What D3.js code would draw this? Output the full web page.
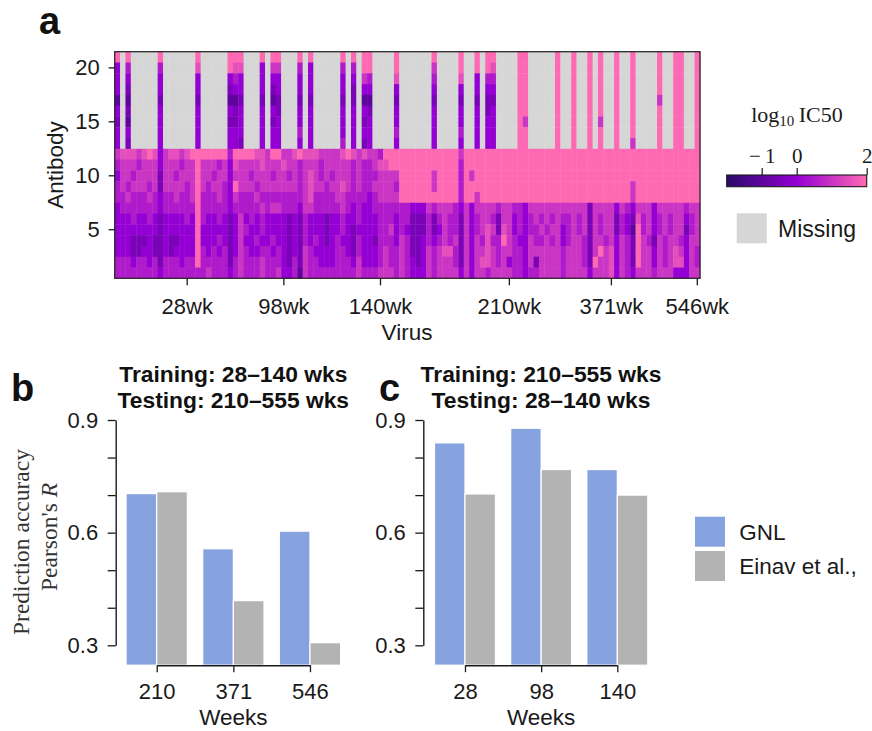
<!DOCTYPE html>
<html>
<head>
<meta charset="utf-8">
<script src="https://d3js.org/d3.v7.min.js"></script>
<style>
  body { margin: 0; background: #fff; }
  svg { display: block; font-family: "Liberation Sans", Arial, sans-serif; }
</style>
</head>
<body>
<svg id="fig" width="872" height="731"></svg>
<script>
// ---- panel a: log10 IC50 per antibody (rows, top = 21) x virus (109 columns)
// one character per virus: level code 0..8 (see ic50Levels), '.' = missing
const antibodyIds = d3.range(21, 0, -1);
const ic50Levels = [-2, -1.5, -1, -0.5, 0, 0.5, 1, 1.5, 2];
const ic50Rows = [
  "8.8.....8. .....8.... .888...8.8 8...8.8... ..8.8.88.. ..8......8 ....8..8.8 8....88... ..8..8..8. 8..8..8... .8..88..8",
  "4.5.....5. .....7.... .877...4.6 6...5.4... ..5.5.88.. ..8......6 ....8..8.8 7....88... ..8..8..8. 8..8..8... .8..88..8",
  "4.4.....4. .....4.... .454...4.4 4...4.4... ..4.4.65.. ..7......5 ....7..4.5 5....88... ..8..8..8. 8..8..8... .8..88..8",
  "4.3.....4. .....4.... .344...4.3 4...4.4... ..4.3.44.. ..4......4 ....4..4.4 4....88... ..8..8..8. 8..8..8... .8..88..8",
  "2.2.....3. .....3.... .223...3.2 3...3.3... ..3.3.22.. ..3......3 ....3..3.3 3....88... ..8..8..8. 8..8..8... .6..88..8",
  "4.3.....4. .....4.... .434...4.4 3...4.4... ..4.4.43.. ..4......4 ....4..4.3 4....88... ..8..8..8. 8..8..8... .8..88..8",
  "3.2.....4. .....4.... .334...4.3 4...4.4... ..4.4.34.. ..4......4 ....4..4.4 4....86... ..8..8..8. 6..8..8... .8..88..8",
  "4.4.....4. .....4.... .444...4.4 4...5.4... ..4.4.44.. ..5......4 ....5..4.4 4....88... ..8..8..8. 8..8..8... .8..88..8",
  "4.3.....4. .....4.... .443...4.4 4...4.4... ..5.4.34.. ..4......4 ....4..4.4 4....88... ..8..8..8. 8..8..6... .8..88..8",
  "6777678746 7767888888 8588887768 8667877766 6678767665 8888888888 8888688888 8888888888 8888888888 8888888888 888888888",
  "5666566646 6656686665 6476666766 6766566656 6666565567 7888888888 8888588888 8888888888 8888888888 8888888888 888888888",
  "4665666636 6566686656 6466656665 6656567656 5666565556 6668888886 8888586888 8888888888 8888888888 8888888888 888888888",
  "5656665636 6665686566 5486665666 6666567665 6676565566 6658888886 8888588888 8888888888 8888888888 8888886888 888888888",
  "5565556545 5655685556 5465556555 5555567555 5665555456 6668888888 8888588688 8888888888 8888888888 8888886888 888888888",
  "4555555545 5555585555 5455555656 6555466555 5565454455 5555544465 6665464666 6566554666 6666666636 6664654666 466666566",
  "4445445434 4445485445 4346454544 4434354443 4454454445 5545533353 5655364566 5366454565 6565565636 5663543756 456566456",
  "4444444434 4444484444 4346544544 4434354443 4454344445 5645433353 4655364567 6376454556 5664565636 5663542856 456566356",
  "4443334334 3344484445 4346445445 4434354543 4544354435 5546533454 5656364657 5586544655 6564566536 6564653865 365665466",
  "4443344334 3444485454 5346544554 5434365444 4554354445 6556533465 6775364667 6566554666 6665666536 8674653866 465676465",
  "5554554535 5545585555 5356555655 5435365544 4555464445 6556543465 6665364677 6564554636 6665666538 6674653866 465677465",
  "5555555545 5555555655 5456555655 6445265555 5555565556 6656544465 6666464665 6666554556 6665666646 6674654666 566644466"
];
const antibodyTicks = [20, 15, 10, 5];
const virusTickCols = [13, 31, 49, 73, 92, 108];
const virusTickLabels = ["28wk", "98wk", "140wk", "210wk", "371wk", "546wk"];
const colorbarTicks = [-1, 0, 2];

// ---- panels b, c: prediction accuracy (Pearson's R)
const methods = ["GNL", "Einav et al.,"];
const methodColors = ["#86a3df", "#b3b3b3"];
const weeksB = ["210", "371", "546"];
const gnlB = [0.704, 0.557, 0.604];
const einavB = [0.709, 0.419, 0.307];
const weeksC = ["28", "98", "140"];
const gnlC = [0.839, 0.878, 0.768];
const einavC = [0.703, 0.768, 0.700];
const accTicks = [0.3, 0.4, 0.5, 0.6, 0.7, 0.8, 0.9];
const accLabelled = [0.3, 0.6, 0.9];

const svg = d3.select("#fig");
const ink = "#1a1a1a";
const tickFont = "22px";
const labelFont = "22.5px";
const missingColor = "#d6d6d6";

const color = d3.scaleLinear()
  .domain([-2, 0, 2])
  .range(["#2a0a68", "#9400d3", "#ff69b4"]);

// ================= heatmap =================
const cells = [];
ic50Rows.forEach((row, i) => {
  row.replace(/ /g, "").split("").forEach((ch, j) => {
    cells.push({ ab: antibodyIds[i], virus: j, v: ch === "." ? null : ic50Levels[+ch] });
  });
});
const nVirus = ic50Rows[0].replace(/ /g, "").length;

const hx = d3.scaleBand().domain(d3.range(nVirus)).range([114.7, 700]);
const hy = d3.scaleBand().domain(antibodyIds).range([51.7, 278.3]);

const heat = svg.append("g");
heat.selectAll("rect.cell")
  .data(cells)
  .join("rect")
  .attr("class", "cell")
  .attr("x", d => hx(d.virus))
  .attr("y", d => hy(d.ab))
  .attr("width", hx.bandwidth() + 0.4)
  .attr("height", hy.bandwidth() + 0.4)
  .attr("fill", d => d.v === null ? missingColor : color(d.v));

heat.append("rect")
  .attr("x", 114.7).attr("y", 51.7)
  .attr("width", 700 - 114.7).attr("height", 278.3 - 51.7)
  .attr("fill", "none").attr("stroke", "#2a2a2a").attr("stroke-width", 1.3);

const hyAxis = heat.append("g")
  .attr("transform", "translate(114.7,0)")
  .call(d3.axisLeft(hy).tickValues(antibodyTicks).tickSize(6).tickPadding(9).tickSizeOuter(0));
const hxAxis = heat.append("g")
  .attr("transform", "translate(0,278.3)")
  .call(d3.axisBottom(hx).tickValues(virusTickCols)
    .tickFormat((d, i) => virusTickLabels[i]).tickSize(7).tickPadding(13).tickSizeOuter(0));
[hyAxis, hxAxis].forEach(a => {
  a.select(".domain").remove();
  a.selectAll("line").attr("stroke", ink).attr("stroke-width", 1.3);
  a.selectAll("text").attr("fill", ink).style("font-size", tickFont)
    .style("font-family", "Liberation Sans, Arial, sans-serif");
});

heat.append("text")
  .attr("x", 407).attr("y", 340)
  .attr("text-anchor", "middle").attr("fill", ink).style("font-size", labelFont)
  .text("Virus");
heat.append("text")
  .attr("transform", "translate(63,165) rotate(-90)")
  .attr("text-anchor", "middle").attr("fill", ink).style("font-size", labelFont)
  .text("Antibody");

// colorbar
const cb = d3.scaleLinear().domain([-2, 2]).range([726.7, 866.7]);
const grad = svg.append("defs").append("linearGradient").attr("id", "cbgrad");
grad.selectAll("stop")
  .data(d3.range(0, 1.0001, 0.05))
  .join("stop")
  .attr("offset", d => d)
  .attr("stop-color", d => color(-2 + 4 * d));
svg.append("rect")
  .attr("x", cb(-2)).attr("y", 175)
  .attr("width", cb(2) - cb(-2)).attr("height", 11.7)
  .attr("fill", "url(#cbgrad)").attr("stroke", ink).attr("stroke-width", 1.1);
const cbAxis = svg.append("g")
  .attr("transform", "translate(0,175)")
  .call(d3.axisTop(cb).tickValues(colorbarTicks).tickSize(7).tickPadding(5).tickSizeOuter(0)
    .tickFormat(d => d < 0 ? "\u2212\u2009" + Math.abs(d) : d));
cbAxis.select(".domain").remove();
cbAxis.selectAll("line").attr("stroke", ink).attr("stroke-width", 1.2);
cbAxis.selectAll("text").attr("fill", ink)
  .style("font-family", "Liberation Serif, Times New Roman, serif").style("font-size", "21px");

const cbTitle = svg.append("text")
  .attr("x", 797).attr("y", 122).attr("text-anchor", "middle").attr("fill", ink)
  .style("font-family", "Liberation Serif, Times New Roman, serif").style("font-size", "22px");
cbTitle.append("tspan").text("log");
cbTitle.append("tspan").attr("dy", 4).style("font-size", "15px").text("10");
cbTitle.append("tspan").attr("dy", -4).text("\u2009IC50");

svg.append("rect")
  .attr("x", 736.7).attr("y", 213.3).attr("width", 30).attr("height", 30)
  .attr("fill", missingColor);
svg.append("text")
  .attr("x", 778).attr("y", 236.5).attr("fill", ink).style("font-size", "23px")
  .text("Missing");

// ================= bar panels =================
const yAcc = d3.scaleLinear().domain([0.3, 0.9]).range([645.3, 420]);
const yFloor = 0.247;

function barPanel(cfg) {
  const g = svg.append("g");
  const x = d3.scaleBand().domain(cfg.weeks).range(cfg.xRange)
    .paddingInner(0.2).paddingOuter(0.1);
  const xm = d3.scaleBand().domain(methods).range([0, x.bandwidth()]);
  const base = yAcc(yFloor);
  const groups = cfg.weeks.map((w, i) => ({ w, vals: [cfg.gnl[i], cfg.einav[i]] }));

  g.selectAll("g.grp")
    .data(groups)
    .join("g")
    .attr("class", "grp")
    .attr("transform", d => `translate(${x(d.w)},0)`)
    .selectAll("rect")
    .data(d => d.vals.map((v, k) => ({ m: methods[k], v, k })))
    .join("rect")
    .attr("x", d => xm(d.m))
    .attr("y", d => yAcc(d.v))
    .attr("width", xm.bandwidth())
    .attr("height", d => base - yAcc(d.v))
    .attr("fill", d => methodColors[d.k])
    .attr("stroke", "#fff").attr("stroke-width", 1.2);

  const yAxis = g.append("g")
    .attr("transform", `translate(${cfg.axisX},0)`)
    .call(d3.axisLeft(yAcc).tickValues(accTicks).tickSize(8).tickPadding(9.5).tickSizeOuter(0)
      .tickFormat(d => accLabelled.some(t => Math.abs(t - d) < 1e-9) ? d3.format(".1f")(d) : ""));

  const centers = d3.scalePoint().domain(cfg.weeks)
    .range([x(cfg.weeks[0]) + x.bandwidth() / 2, x(cfg.weeks[cfg.weeks.length - 1]) + x.bandwidth() / 2]);
  const xAxis = g.append("g")
    .attr("transform", `translate(0,${base})`)
    .call(d3.axisBottom(centers).tickSize(7).tickPadding(11).tickSizeOuter(0));

  [yAxis, xAxis].forEach(a => {
    a.select(".domain").attr("stroke", ink).attr("stroke-width", 1.4);
    a.selectAll("line").attr("stroke", ink).attr("stroke-width", 1.3);
    a.selectAll("text").attr("fill", ink).style("font-size", tickFont)
      .style("font-family", "Liberation Sans, Arial, sans-serif");
  });

  const mid = (x(cfg.weeks[0]) + x(cfg.weeks[2]) + x.bandwidth()) / 2;
  g.append("text")
    .attr("x", mid).attr("y", 725).attr("text-anchor", "middle").attr("fill", ink)
    .style("font-size", labelFont).text("Weeks");

  cfg.title.forEach((t, i) => {
    g.append("text")
      .attr("x", cfg.titleX).attr("y", 381.7 + i * 26.6)
      .attr("text-anchor", "middle").attr("fill", "#111")
      .style("font-size", "22.8px").style("font-weight", "bold")
      .text(t);
  });
  g.append("text")
    .attr("x", cfg.letterX).attr("y", 401).attr("fill", "#111")
    .style("font-size", "38px").style("font-weight", "bold")
    .text(cfg.letter);
}

barPanel({
  weeks: weeksB, gnl: gnlB, einav: einavB,
  xRange: [118.4, 348.3], axisX: 115.7,
  title: ["Training: 28\u2013140 wks", "Testing: 210\u2013555 wks"], titleX: 233.3,
  letter: "b", letterX: 11
});
barPanel({
  weeks: weeksC, gnl: gnlC, einav: einavC,
  xRange: [426.9, 655.4], axisX: 423.3,
  title: ["Training: 210\u2013555 wks", "Testing: 28\u2013140 wks"], titleX: 541,
  letter: "c", letterX: 379
});

// y label (panel b)
const ylab = svg.append("g")
  .style("font-family", "Liberation Serif, Times New Roman, serif")
  .style("font-size", "23.5px").attr("fill", "#333");
ylab.append("text")
  .attr("transform", "translate(28.5,542) rotate(-90)")
  .attr("text-anchor", "middle").text("Prediction accuracy");
const pr = ylab.append("text")
  .attr("transform", "translate(57,537) rotate(-90)")
  .attr("text-anchor", "middle");
pr.append("tspan").text("Pearson's ");
pr.append("tspan").style("font-style", "italic").text("R");

// legend
const leg = svg.append("g");
methods.forEach((m, i) => {
  leg.append("rect")
    .attr("x", 695).attr("y", 516.7 + i * 34.3)
    .attr("width", 30).attr("height", 30)
    .attr("fill", methodColors[i]);
  leg.append("text")
    .attr("x", 739.3).attr("y", 539.5 + i * 34.3)
    .attr("fill", ink).style("font-size", labelFont)
    .text(m);
});

svg.append("text")
  .attr("x", 39).attr("y", 34).attr("fill", "#111")
  .style("font-size", "38px").style("font-weight", "bold")
  .text("a");
</script>
</body>
</html>
